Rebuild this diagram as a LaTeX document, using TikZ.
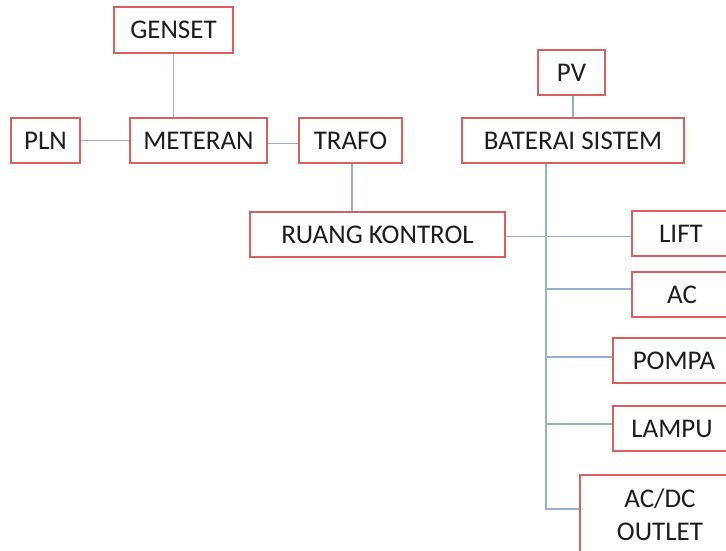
\documentclass[tikz,border=0pt]{standalone}
\usepackage{fontspec}
\setmainfont{Carlito}
\usetikzlibrary{calc}

\definecolor{boxred}{RGB}{218,96,96}
\definecolor{wireblue}{RGB}{149,176,214}
\definecolor{txtgray}{RGB}{30,30,30}

\newdimen\px
\px=0.5pt

\begin{document}
\begin{tikzpicture}[
                x=0.5pt, y=-0.5pt,% one unit = one pixel of the sketch
                box/.style={draw=boxred, line width=1.8\px, fill=white, text=txtgray,
                    font=\fontsize{13.5}{16.5}\selectfont, inner sep=0pt, minimum height=45\px},
                wire/.style={draw=wireblue, line width=1.6\px}
            ]

                \useasboundingbox (0,0) rectangle (726,550);
                \clip (0,0) rectangle (726,550);
                \fill[white] (0,0) rectangle (726,550);

                % grid side
                \node[box, minimum width=119\px, minimum height=46\px] (genset) at (173.5,30) {GENSET};
                \node[box, minimum width=69\px] (pln) at (45.5,140.5) {PLN};
                \node[box, minimum width=137\px] (meteran) at (198.5,140.5) {METERAN};
                \node[box, minimum width=103\px] (trafo) at (350.5,140.5) {TRAFO};
                \node[box, minimum width=255\px] (ruang) at (377.5,234.5) {RUANG KONTROL};

                % solar side
                \node[box, minimum width=67\px] (pv) at (571.5,72.5) {PV};
                \node[box, minimum width=222\px] (baterai) at (573,140.5) {BATERAI SISTEM};
                \coordinate (bus) at (546,0);

                % loads
                \node[box, minimum width=98\px] (lift) at (681,233.5) {LIFT};
                \node[box, minimum width=100\px] (ac) at (682,294.5) {AC};
                \node[box, minimum width=122\px] (pompa) at (674,360.5) {POMPA};
                \node[box, minimum width=118\px] (lampu) at (672,428.5) {LAMPU};
                \node[box, minimum width=160\px, minimum height=80\px, align=center] (outlet) at (660,515) {AC/DC\\OUTLET};

                \draw[wire]
                    (genset.south) -- (genset.south |- meteran.north)
                    (pln.east) -- (meteran.west)
                    ($(meteran.east)+(0,3)$) -- ($(trafo.west)+(0,3)$)
                    ([xshift=1.5\px]trafo.south) -- ([xshift=1.5\px]trafo.south |- ruang.north)
                    ([xshift=1.5\px]pv.south) -- ([xshift=1.5\px]pv.south |- baterai.north)
                    (baterai.south -| bus) -- ($(bus |- outlet.west)+(0,-6)$) -- ($(outlet.west)+(0,-6)$)
                    ($(ruang.east)+(0,2)$) -- ($(ruang.east -| lift.west)+(0,2)$)
                    ($(bus |- ac.west)+(0,-5.5)$) -- ($(ac.west)+(0,-5.5)$)
                    ($(bus |- pompa.west)+(0,-3.5)$) -- ($(pompa.west)+(0,-3.5)$)
                    ($(bus |- lampu.west)+(0,-4.5)$) -- ($(lampu.west)+(0,-4.5)$);

            \end{tikzpicture}
\end{document}
